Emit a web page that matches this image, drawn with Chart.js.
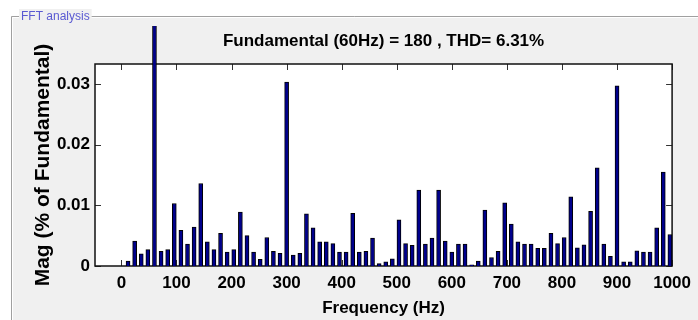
<!DOCTYPE html>
<html>
<head>
<meta charset="utf-8">
<script src="https://cdn.jsdelivr.net/npm/chart.js@4.4.1/dist/chart.umd.min.js"></script>
<style>
  html, body { margin: 0; padding: 0; background: #fff; }
  #wrap { width: 698px; height: 320px; }
</style>
</head>
<body>
<div id="wrap"><canvas id="fft-chart" width="698" height="320"></canvas></div>
<script>
// FFT bins (Hz), 5-cycle window of a 60 Hz signal -> 12 Hz resolution
const freqs = [
  0, 12, 24, 36, 48, 60, 72, 84, 96, 108, 120, 132, 144, 156, 168, 180, 192, 204, 216, 228,
  240, 252, 264, 276, 288, 300, 312, 324, 336, 348, 360, 372, 384, 396, 408, 420, 432, 444, 456, 468,
  480, 492, 504, 516, 528, 540, 552, 564, 576, 588, 600, 612, 624, 636, 648, 660, 672, 684, 696, 708,
  720, 732, 744, 756, 768, 780, 792, 804, 816, 828, 840, 852, 864, 876, 888, 900, 912, 924, 936, 948,
  960, 972, 984, 996
];

// magnitude relative to the fundamental (60 Hz = 1)
const mags = [
  0, 0.0008, 0.0041, 0.0020, 0.0027, 1, 0.0024, 0.0027, 0.0103, 0.0059,
  0.0036, 0.0064, 0.0136, 0.0040, 0.0027, 0.0054, 0.0023, 0.0027, 0.0089, 0.0050,
  0.0023, 0.0011, 0.0047, 0.0024, 0.0021, 0.0303, 0.0018, 0.0021, 0.0086, 0.0063,
  0.0040, 0.0040, 0.0037, 0.0023, 0.0023, 0.0087, 0.0023, 0.0024, 0.0046, 0.0004,
  0.0007, 0.0012, 0.0076, 0.0037, 0.0034, 0.0125, 0.0036, 0.0046, 0.0125, 0.0041,
  0.0023, 0.0036, 0.0036, 0.0002, 0.0008, 0.0092, 0.0014, 0.0024, 0.0104, 0.0069,
  0.0040, 0.0036, 0.0036, 0.0029, 0.0029, 0.0054, 0.0037, 0.0047, 0.0114, 0.0030,
  0.0035, 0.0090, 0.0162, 0.0036, 0.0016, 0.0297, 0.0007, 0.0007, 0.0025, 0.0023,
  0.0023, 0.0063, 0.0155, 0.0052
];

const xTicks = [0, 100, 200, 300, 400, 500, 600, 700, 800, 900, 1000];
const yTicks = [0, 0.01, 0.02, 0.03];

const titleText = 'Fundamental (60Hz) = 180 , THD= 6.31%';
const panelText = 'FFT analysis';
const FONT = '"Liberation Sans", Arial, sans-serif';

// 面板背景、分组框和坐标框
const panelPlugin = {
  id: 'panel',
  beforeDraw(chart) {
    const ctx = chart.ctx;
    const w = chart.width, h = chart.height;
    const a = chart.chartArea;
    ctx.save();
    ctx.fillStyle = '#ffffff';
    ctx.fillRect(0, 0, w, h);
    ctx.fillStyle = '#f0f0f0';
    ctx.fillRect(11, 16, w - 11, h - 16);

    // etched group box line
    ctx.lineWidth = 1;
    ctx.strokeStyle = '#a0a0a0';
    ctx.beginPath();
    ctx.moveTo(11.5, h); ctx.lineTo(11.5, 16.5); ctx.lineTo(w, 16.5);
    ctx.stroke();
    ctx.strokeStyle = '#ffffff';
    ctx.beginPath();
    ctx.moveTo(12.5, h); ctx.lineTo(12.5, 17.5); ctx.lineTo(w, 17.5);
    ctx.stroke();

    ctx.font = '12px ' + FONT;
    const tw = ctx.measureText(panelText).width;
    ctx.fillStyle = '#f0f0f0';
    ctx.fillRect(19, 9, tw + 4, 15);
    ctx.fillStyle = '#5a5ad2';
    ctx.textBaseline = 'middle';
    ctx.fillText(panelText, 21, 16.5);

    ctx.fillStyle = '#ffffff';
    ctx.fillRect(a.left, a.top, a.right - a.left, a.bottom - a.top);
    ctx.restore();
  },
  beforeDatasetsDraw(chart) {
    const ctx = chart.ctx;
    const a = chart.chartArea;
    const xs = chart.scales.x, ys = chart.scales.y;
    ctx.save();
    // inward ticks on all four sides
    ctx.strokeStyle = '#333333';
    ctx.lineWidth = 1;
    ctx.beginPath();
    xTicks.forEach(v => {
      const px = Math.round(xs.getPixelForValue(v)) + 0.5;
      ctx.moveTo(px, a.bottom); ctx.lineTo(px, a.bottom - 6);
      ctx.moveTo(px, a.top); ctx.lineTo(px, a.top + 6);
    });
    yTicks.forEach(v => {
      const py = Math.round(ys.getPixelForValue(v)) + 0.5;
      ctx.moveTo(a.left, py); ctx.lineTo(a.left + 6, py);
      ctx.moveTo(a.right, py); ctx.lineTo(a.right - 6, py);
    });
    ctx.stroke();
    // axes box
    ctx.strokeStyle = '#111111';
    ctx.lineWidth = 1.5;
    ctx.strokeRect(a.left, a.top, a.right - a.left, a.bottom - a.top);
    ctx.restore();
  }
};

const points = freqs.map((f, i) => ({ x: f, y: mags[i] }));

const ctx = document.getElementById('fft-chart').getContext('2d');
window.fftChart = new Chart(ctx, {
  type: 'bar',
  data: {
    datasets: [{
      label: 'Mag',
      data: points,
      backgroundColor: '#00008c',
      borderColor: '#000000',
      borderWidth: 1,
      barThickness: 4,
      // the fundamental bar runs past the top of the axes
      clip: { left: 0, top: 38, right: 0, bottom: 0 }
    }]
  },
  options: {
    responsive: false,
    animation: false,
    devicePixelRatio: 1,
    layout: { padding: { left: 0, right: 25, top: 0, bottom: 0 } },
    plugins: {
      legend: { display: false },
      tooltip: { enabled: false },
      title: {
        display: true,
        fullSize: false,
        text: titleText,
        color: '#000',
        font: { family: FONT, size: 17, weight: 'bold' },
        padding: { top: 31, bottom: 12.6 }
      }
    },
    scales: {
      x: {
        type: 'linear',
        min: -48,
        max: 1000,
        offset: false,
        grid: { display: false, drawTicks: false },
        border: { display: false },
        afterBuildTicks: scale => { scale.ticks = xTicks.map(v => ({ value: v })); },
        afterFit: scale => { scale.height = 54; },
        ticks: {
          color: '#000',
          padding: 7,
          maxRotation: 0,
          autoSkip: false,
          font: { family: FONT, size: 17, weight: 'bold' },
          callback: v => String(v)
        },
        title: {
          display: true,
          text: 'Frequency (Hz)',
          color: '#000',
          font: { family: FONT, size: 17, weight: 'bold' },
          padding: { top: 0, bottom: 1 }
        }
      },
      y: {
        min: 0,
        max: 0.0333,
        grid: { display: false, drawTicks: false },
        border: { display: false },
        afterBuildTicks: scale => { scale.ticks = yTicks.map(v => ({ value: v })); },
        afterFit: scale => { scale.width = 95; },
        ticks: {
          color: '#000',
          padding: 5,
          font: { family: FONT, size: 17, weight: 'bold' },
          callback: v => String(v)
        },
        title: {
          display: true,
          text: 'Mag (% of Fundamental)',
          color: '#000',
          font: { family: FONT, size: 21, weight: 'bold' },
          padding: { top: 31, bottom: 0 }
        }
      }
    }
  },
  plugins: [panelPlugin]
});
</script>
</body>
</html>
